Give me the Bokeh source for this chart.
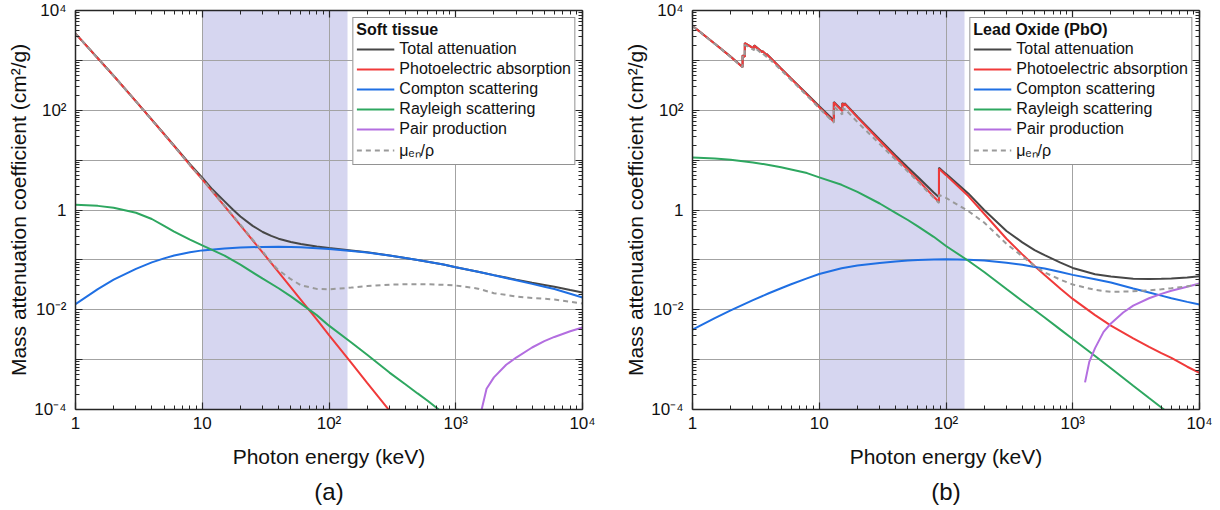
from bokeh.plotting import figure
from bokeh.models import Range1d, LogAxis, FixedTicker, BoxAnnotation, Legend, LegendItem, Title
from bokeh.layouts import row
from bokeh.embed import file_html
from bokeh.resources import INLINE

FONT = "Liberation Sans"

# ---------------- data ----------------
# Shaded energy band (keV)
band_lo = 10
band_hi = 140

# Soft tissue
E_st_f = [1, 1.5, 2, 3, 4, 5, 6, 8, 10, 12, 15, 17.5, 20, 25, 30, 35, 40, 50, 60, 80, 100,
          150, 200, 300, 400, 500, 600, 800, 1000, 1500, 2000, 3000, 4000, 5000, 6000, 8000,
          10000]
st_total = [3451, 1101, 491.2, 150.9, 64.7, 33.6, 19.5, 8.29, 4.45, 2.6, 1.49, 1.01, 0.74,
            0.48, 0.362, 0.302, 0.266, 0.228, 0.208, 0.186, 0.173, 0.154, 0.142, 0.123,
            0.109, 0.099, 0.092, 0.081, 0.071, 0.058, 0.0495, 0.0402, 0.0349, 0.0315,
            0.029, 0.0248, 0.0221]
st_muen = [3440, 1095, 488, 149.5, 63.8, 32.9, 19.0, 7.9, 4.15, 2.38, 1.22, 0.76, 0.51,
           0.255, 0.148, 0.088, 0.062, 0.041, 0.031, 0.0262, 0.0256, 0.0278, 0.0298, 0.0318,
           0.0325, 0.0326, 0.0324, 0.0316, 0.0306, 0.0265, 0.0215, 0.0185, 0.0172, 0.0166,
           0.016, 0.0145, 0.0133]
E_st = [1, 1.5, 2, 3, 4, 5, 6, 8, 10, 15, 20, 30, 40, 50, 60, 80, 100, 150, 200, 300,
        400, 500, 600, 800, 1000, 1500, 2000, 3000, 4000, 5000, 6000, 8000, 10000]
st_compton = [0.013, 0.026, 0.040, 0.066, 0.089, 0.107, 0.122, 0.142, 0.155, 0.170, 0.177,
              0.182, 0.183, 0.182, 0.179, 0.172, 0.165, 0.151, 0.140, 0.122, 0.109, 0.099,
              0.092, 0.081, 0.071, 0.058, 0.049, 0.039, 0.033, 0.029, 0.026, 0.021, 0.0176]
E_st_photo = [1, 1.5, 2, 3, 4, 5, 6, 8, 10, 15, 20, 30, 40, 50, 60, 80, 100, 150, 200, 300]
st_photo = [3450, 1100, 490, 150, 64, 33, 19, 7.9, 4.1, 1.2, 0.49, 0.14, 0.057, 0.028,
            0.0158, 0.0064, 0.0031, 8.6e-4, 3.4e-4, 9.5e-5]
E_st_rayl = [1, 1.5, 2, 3, 4, 5, 6, 8, 10, 15, 20, 30, 40, 50, 60, 80, 100, 150, 200, 300,
             400, 500, 600, 800]
st_rayl = [1.28, 1.21, 1.11, 0.88, 0.66, 0.48, 0.37, 0.255, 0.195, 0.122, 0.08, 0.042,
           0.027, 0.0185, 0.0133, 0.0078, 0.0048, 0.0022, 0.00125, 5.5e-4, 3.2e-4, 2.1e-4,
           1.5e-4, 8.4e-5]
E_st_pair = [1500, 1750, 2000, 2500, 3000, 4000, 5000, 6000, 8000, 10000]
st_pair = [5e-5, 2.6e-4, 4.4e-4, 7.9e-4, 1.1e-3, 1.75e-3, 2.35e-3, 2.85e-3, 3.7e-3, 4.4e-3]

# Lead oxide (PbO) – absorption-edge energies appear twice (below / above edge)
E_pb = [1, 1.5, 2, 2.484, 2.484, 2.586, 2.586, 3.066, 3.066, 3.554, 3.554, 3.851, 3.851,
        5, 6, 8, 10, 13.035, 13.035, 15.2, 15.2, 15.861, 15.861, 20, 30, 40, 50, 60, 80,
        88.0, 88.0, 100, 150, 200, 300, 400, 500, 600, 800, 1000, 1500, 2000, 3000, 4000,
        5000, 6000, 8000, 10000]
pb_photo = [4900, 2150, 1180, 730, 1250, 1180, 2210, 1720, 1990, 1460, 1540, 1280, 1330,
            680, 428, 206, 115, 59, 143, 96, 137, 124, 136, 72, 24.5, 11.4, 6.4, 4.0, 1.85,
            1.45, 6.7, 5.0, 1.9, 0.84, 0.265, 0.129, 0.0755, 0.0496, 0.0263, 0.0165, 0.0078,
            0.0048, 0.00267, 0.00181, 0.00135, 0.00108, 0.00072, 0.00054]
pb_total = [4911, 2161, 1190, 740, 1260, 1190, 2220, 1729, 1999, 1469, 1549, 1288, 1338,
            687, 435, 212, 120, 63, 147, 99.3, 140, 127, 139, 74.6, 26.0, 12.4, 7.1, 4.57,
            2.24, 1.80, 7.05, 5.3, 2.15, 1.0, 0.38, 0.224, 0.157, 0.124, 0.088, 0.069,
            0.0517, 0.0462, 0.042, 0.0414, 0.0417, 0.0422, 0.0442, 0.0469]
pb_muen = [4880, 2140, 1170, 725, 1200, 1130, 2050, 1600, 1820, 1350, 1400, 1170, 1200,
           640, 405, 196, 110, 56, 120, 82, 112, 101, 108, 58, 21, 10.3, 5.9, 3.7, 1.75,
           1.38, 2.0, 1.75, 0.95, 0.56, 0.21, 0.118, 0.075, 0.056, 0.040, 0.032, 0.025,
           0.0228, 0.0234, 0.0245, 0.0258, 0.027, 0.0295, 0.032]
E_pb_s = [1, 1.5, 2, 3, 4, 5, 6, 8, 10, 15, 20, 30, 40, 50, 60, 80, 100, 150, 200, 300,
          400, 500, 600, 800, 1000, 1500, 2000, 3000, 4000, 5000, 6000, 8000, 10000]
pb_compton = [0.0040, 0.0068, 0.0097, 0.0156, 0.0214, 0.027, 0.0324, 0.0426, 0.052, 0.068,
              0.077, 0.087, 0.093, 0.097, 0.099, 0.102, 0.103, 0.101, 0.097, 0.088, 0.080,
              0.072, 0.067, 0.057, 0.050, 0.041, 0.0352, 0.0267, 0.0222, 0.0192, 0.0170,
              0.0144, 0.0127]
pb_rayl = [11.3, 10.8, 10.2, 9.0, 8.0, 7.2, 6.5, 5.5, 4.5, 3.2, 2.3, 1.35, 0.88, 0.63, 0.47,
           0.29, 0.19, 0.096, 0.057, 0.026, 0.015, 0.0099, 0.0070, 0.0040, 0.0026, 0.00118,
           0.00067, 0.0003, 0.00017, 0.00011, 7.6e-5, 4.3e-5, 2.8e-5]
E_pb_pair = [1250, 1350, 1500, 1750, 2000, 2500, 3000, 4000, 5000, 6000, 8000, 10000]
pb_pair = [3.5e-4, 9e-4, 1.7e-3, 3.6e-3, 5.3e-3, 8.8e-3, 0.0121, 0.0170, 0.0208, 0.0240,
           0.029, 0.0336]

# Axis ticks
x_major = [1, 10, 100, 1000, 10000]
x_labels = ["1", "10", "10²", "10³", "10⁴"]
x_minor = [m * 10 ** d for d in range(0, 4) for m in range(2, 10)]
y_major = [1e-4, 1e-3, 1e-2, 1e-1, 1.0, 10.0, 100.0, 1000.0, 10000.0]
y_labels = ["10⁻⁴", "", "10⁻²", "", "1", "", "10²", "", "10⁴"]
y_minor = [m * y for y in y_major[:-1] for m in range(2, 10)]

series_names = ["Total attenuation", "Photoelectric absorption", "Compton scattering",
                "Rayleigh scattering", "Pair production", "μₑₙ/ρ"]
colors = ["#474747", "#f03a3a", "#1f6fe3", "#2ea760", "#b36ee0", "#9a9a9a"]

AX = "#262626"
TXT = "#111111"


def style_axis(ax, major, minor, labels):
    ax.ticker = FixedTicker(ticks=major, minor_ticks=minor)
    ax.major_label_overrides = dict(zip(major, labels))
    ax.major_tick_in = 7
    ax.major_tick_out = 0
    ax.minor_tick_in = 4
    ax.minor_tick_out = 0
    ax.axis_line_color = AX
    ax.axis_line_width = 1.5
    ax.major_tick_line_color = AX
    ax.major_tick_line_width = 1.2
    ax.minor_tick_line_color = AX
    ax.minor_tick_line_width = 1
    ax.major_label_text_font = FONT
    ax.major_label_text_font_size = "17px"
    ax.major_label_text_color = TXT
    ax.major_label_standoff = 6
    ax.axis_label_text_font = FONT
    ax.axis_label_text_font_size = "21px"
    ax.axis_label_text_font_style = "normal"
    ax.axis_label_text_color = TXT


def panel(caption, title, data, min_left, min_right):
    p = figure(x_axis_type="log", y_axis_type="log",
               x_range=Range1d(1, 1e4), y_range=Range1d(1e-4, 1e4),
               frame_width=507, frame_height=399,
               min_border_left=min_left, min_border_right=min_right,
               min_border_top=10, min_border_bottom=20,
               output_backend="svg", toolbar_location=None)
    p.outline_line_color = None
    p.background_fill_color = "white"

    p.add_layout(BoxAnnotation(left=band_lo, right=band_hi, fill_color="#d6d6f0",
                               fill_alpha=1.0, line_color=None, level="image"))

    style_axis(p.xaxis[0], x_major, x_minor, x_labels)
    style_axis(p.yaxis[0], y_major, y_minor, y_labels)
    p.xaxis[0].axis_label = "Photon energy (keV)"
    p.xaxis[0].major_label_standoff = 4
    p.xaxis[0].axis_label_standoff = 9
    p.yaxis[0].axis_label = "Mass attenuation coefficient (cm²/g)"
    p.yaxis[0].major_label_standoff = 9
    p.yaxis[0].axis_label_standoff = 1

    top = LogAxis()
    style_axis(top, x_major, x_minor, [""] * len(x_major))
    top.major_label_standoff = 0
    p.add_layout(top, "above")
    right = LogAxis()
    style_axis(right, y_major, y_minor, [""] * len(y_major))
    right.major_label_standoff = 0
    p.add_layout(right, "right")

    p.xgrid.ticker = FixedTicker(ticks=x_major)
    p.ygrid.ticker = FixedTicker(ticks=y_major)
    for g in (p.xgrid, p.ygrid):
        g.grid_line_color = "#a3a3a3"
        g.grid_line_width = 1

    renderers = []
    for i, (xs, ys) in enumerate(data):
        if i == 5:
            r = p.line(xs, ys, line_color=colors[i], line_width=2, line_dash="5 4")
        else:
            r = p.line(xs, ys, line_color=colors[i], line_width=2)
        renderers.append(r)

    items = [LegendItem(label=n, renderers=[r]) for n, r in zip(series_names, renderers)]
    leg = Legend(items=items, title=title, location="top_right", margin=7,
                 title_text_font=FONT, title_text_font_size="16px",
                 title_text_font_style="bold", title_text_color=TXT, title_standoff=0,
                 label_text_font=FONT, label_text_font_size="16px", label_text_color=TXT,
                 label_height=20, glyph_height=20, glyph_width=38, label_standoff=5,
                 spacing=0, padding=3, border_line_color=AX, border_line_width=1,
                 background_fill_color="white", background_fill_alpha=1.0)
    p.add_layout(leg)

    p.add_layout(Title(text=caption, align="center", text_font=FONT, text_font_size="24px",
                       text_font_style="normal", text_color=TXT), "below")
    return p


p1 = panel("(a)", "Soft tissue",
           [(E_st_f, st_total), (E_st_photo, st_photo), (E_st, st_compton),
            (E_st_rayl, st_rayl), (E_st_pair, st_pair), (E_st_f, st_muen)],
           75, 28)
p2 = panel("(b)", "Lead Oxide (PbO)",
           [(E_pb, pb_total), (E_pb, pb_photo), (E_pb_s, pb_compton),
            (E_pb_s, pb_rayl), (E_pb_pair, pb_pair), (E_pb, pb_muen)],
           82, 20)

layout = row(p1, p2)
open("out.html", "w").write(file_html(layout, INLINE))
